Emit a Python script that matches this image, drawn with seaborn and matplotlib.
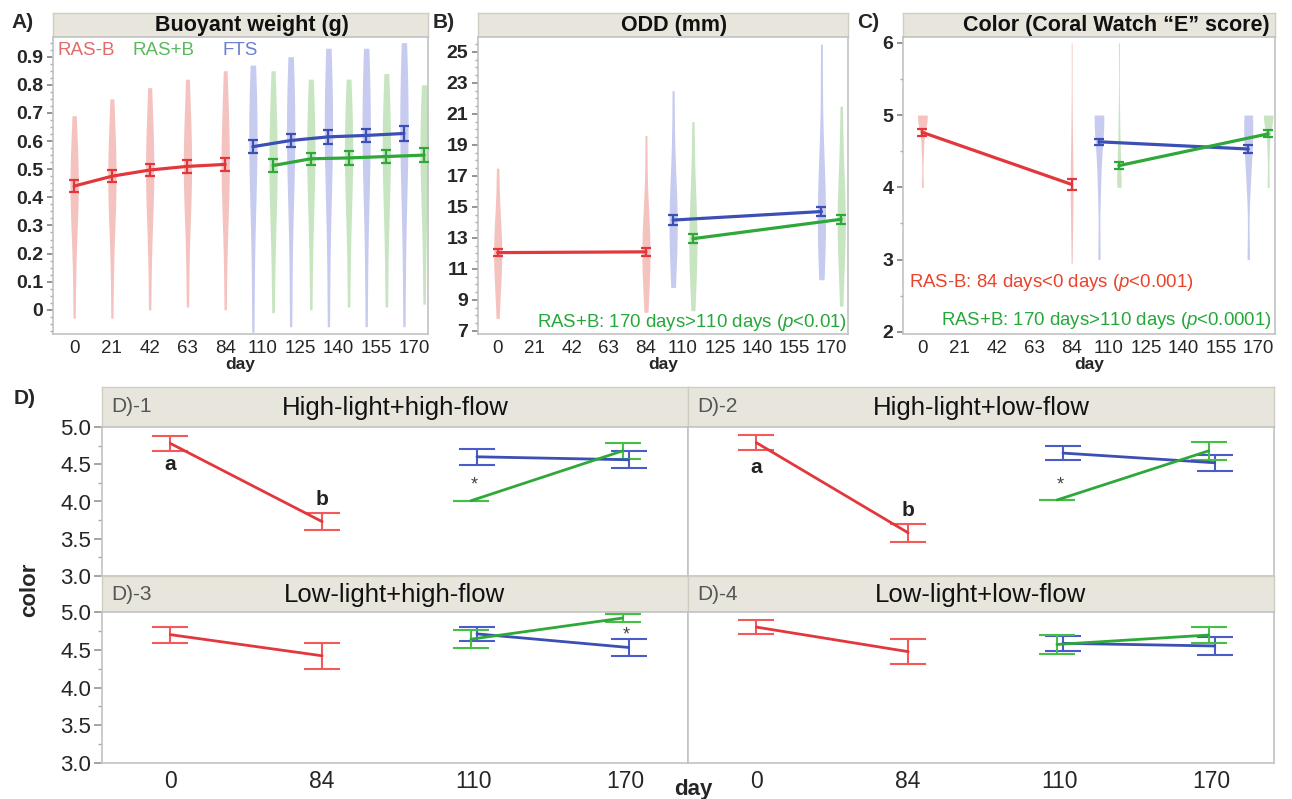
import numpy as np
import pandas as pd
import matplotlib
matplotlib.use('Agg')
import matplotlib.pyplot as plt
from matplotlib.ticker import MultipleLocator
import seaborn as sns

sns.set_theme(style='white')
plt.rcParams['font.family'] = ['Liberation Sans', 'DejaVu Sans']
plt.rcParams['mathtext.fontset'] = 'custom'
plt.rcParams['mathtext.it'] = 'Liberation Sans:italic'
plt.rcParams['mathtext.rm'] = 'Liberation Sans'

# ---------------- data ----------------
days_all = ['0', '21', '42', '63', '84', '110', '125', '140', '155', '170']

# A) buoyant weight (g)
bw_days_red = ['0', '21', '42', '63', '84']
bw_days_late = ['110', '125', '140', '155', '170']
bw_red_mean = [0.440, 0.475, 0.497, 0.510, 0.517]
bw_red_err = [0.022, 0.022, 0.022, 0.022, 0.022]
bw_fts_mean = [0.580, 0.602, 0.615, 0.620, 0.627]
bw_fts_err = [0.024, 0.024, 0.024, 0.024, 0.026]
bw_grn_mean = [0.513, 0.537, 0.540, 0.545, 0.550]
bw_grn_err = [0.022, 0.022, 0.024, 0.022, 0.024]
bw_red_vio = [[-0.03, 0.25, 0.38, 0.44, 0.47, 0.52, 0.69],
              [-0.03, 0.28, 0.40, 0.47, 0.50, 0.56, 0.75],
              [0.00, 0.30, 0.42, 0.50, 0.53, 0.60, 0.79],
              [0.01, 0.32, 0.44, 0.51, 0.55, 0.62, 0.82],
              [0.00, 0.32, 0.45, 0.52, 0.56, 0.64, 0.85]]
bw_fts_vio = [[-0.08, 0.30, 0.50, 0.58, 0.65, 0.72, 0.87],
              [-0.06, 0.32, 0.52, 0.60, 0.67, 0.75, 0.90],
              [-0.06, 0.33, 0.53, 0.62, 0.69, 0.77, 0.93],
              [-0.06, 0.33, 0.53, 0.62, 0.69, 0.77, 0.93],
              [-0.06, 0.34, 0.54, 0.63, 0.70, 0.79, 0.95]]
bw_grn_vio = [[-0.01, 0.28, 0.44, 0.51, 0.57, 0.65, 0.85],
              [0.00, 0.30, 0.46, 0.54, 0.60, 0.66, 0.82],
              [0.01, 0.30, 0.46, 0.54, 0.60, 0.66, 0.82],
              [0.01, 0.30, 0.47, 0.55, 0.61, 0.68, 0.84],
              [0.02, 0.30, 0.47, 0.55, 0.61, 0.66, 0.80]]

# B) ODD (mm)
odd_days_red = ['0', '84']
odd_days_late = ['110', '170']
odd_red_mean = [12.05, 12.1]
odd_red_err = [0.25, 0.28]
odd_fts_mean = [14.15, 14.7]
odd_fts_err = [0.3, 0.3]
odd_grn_mean = [12.95, 14.2]
odd_grn_err = [0.28, 0.3]
odd_red_vio = [[7.8, 10.5, 11.6, 12.1, 12.6, 14.0, 17.5],
               [8.2, 10.8, 11.7, 12.2, 12.8, 14.5, 19.6]]
odd_fts_vio = [[9.8, 12.0, 13.5, 14.2, 14.9, 17.0, 22.5],
               [10.3, 12.5, 13.9, 14.7, 15.5, 18.0, 25.5]]
odd_grn_vio = [[8.3, 11.0, 12.3, 13.0, 13.7, 16.0, 20.5],
               [8.6, 12.0, 13.5, 14.2, 14.9, 17.0, 21.5]]

# C) colour score
col_red_mean = [4.76, 4.04]
col_red_err = [0.05, 0.08]
col_fts_mean = [4.63, 4.53]
col_fts_err = [0.045, 0.06]
col_grn_mean = [4.30, 4.74]
col_grn_err = [0.045, 0.05]
col_red_vio = [[4.0, 4.5, 4.8, 5.0, 5.0, 5.0, 5.0, 5.0],
               [2.95, 3.5, 4.0, 4.0, 4.0, 4.5, 5.0, 6.0]]
col_fts_vio = [[3.0, 4.0, 4.5, 5.0, 5.0, 5.0, 5.0],
               [3.0, 4.0, 4.5, 4.5, 5.0, 5.0, 5.0]]
col_grn_vio = [[4.0, 4.0, 4.0, 4.0, 4.5, 5.0, 6.0],
               [4.0, 4.5, 5.0, 5.0, 5.0, 5.0, 5.0]]

# D) colour by light/flow treatment
d_days = ['0', '84', '110', '170']
d_titles = ['High-light+high-flow', 'High-light+low-flow',
            'Low-light+high-flow', 'Low-light+low-flow']
d_tags = ['D)-1', 'D)-2', 'D)-3', 'D)-4']
d_red_mean = [[4.78, 3.73], [4.79, 3.58], [4.70, 4.42], [4.80, 4.475]]
d_red_err = [[0.10, 0.11], [0.10, 0.12], [0.105, 0.17], [0.09, 0.165]]
d_fts_mean = [[4.60, 4.56], [4.65, 4.52], [4.71, 4.53], [4.585, 4.55]]
d_fts_err = [[0.11, 0.115], [0.09, 0.11], [0.09, 0.11], [0.095, 0.12]]
d_grn_mean = [[4.01, 4.68], [4.02, 4.68], [4.64, 4.92], [4.57, 4.695]]
d_grn_err = [[0.002, 0.11], [0.002, 0.12], [0.115, 0.05], [0.13, 0.105]]

# ---------------- styling ----------------
line_col = {'RAS-B': '#e2383d', 'RAS+B': '#2fa83a', 'FTS': '#3b4fb4'}
vio_col = {'RAS-B': '#f5c3bf', 'RAS+B': '#c8e5c2', 'FTS': '#c6cbef'}
bar_col_d = {'RAS-B': '#f25a5a', 'RAS+B': '#45bf45', 'FTS': '#4a5cc8'}
offset = {'FTS': -0.267, 'RAS-B': 0.0, 'RAS+B': 0.267}
pos = {d: i for i, d in enumerate(days_all)}
HEAD_BG = '#e8e5dc'
HEAD_EDGE = '#cfccc2'
SPINE = '#c2c2c2'

W, H = 1292, 799
fig = plt.figure(figsize=(W / 100, H / 100), dpi=100)


def add_px(x0, y0, x1, y1):
    return fig.add_axes([x0 / W, 1 - y1 / H, (x1 - x0) / W, (y1 - y0) / H])


def header(box, title, tx=0.5, ha='center', size=15.5, weight='bold', tag=None):
    hx = add_px(*box)
    hx.set_facecolor(HEAD_BG)
    hx.set_xticks([])
    hx.set_yticks([])
    for s in hx.spines.values():
        s.set_color(HEAD_EDGE)
        s.set_linewidth(1)
    hx.text(tx, 0.47, title, ha=ha, va='center', fontsize=size,
            fontweight=weight, color='#111111', transform=hx.transAxes)
    if tag:
        hx.text(0.015, 0.5, tag, ha='left', va='center', fontsize=15,
                color='#555555', transform=hx.transAxes)
    return hx


def box_spines(ax):
    for s in ax.spines.values():
        s.set_color(SPINE)
        s.set_linewidth(1.2)


def draw_top(ax, vio_sets, mean_sets, norm, cap, vw=0.22, bw=1.0):
    rows = []
    for grp, days, vals_list in vio_sets:
        for d, vals in zip(days, vals_list):
            for v in vals:
                rows.append({'x': pos[d] + offset[grp], 'value': v, 'group': grp})
    df = pd.DataFrame(rows)
    gap = np.diff(np.sort(df['x'].unique())).min()
    sns.violinplot(data=df, x='x', y='value', hue='group', orient='x',
                   native_scale=True, dodge=False, palette=vio_col, cut=0,
                   inner=None, linewidth=0, density_norm=norm, bw_adjust=bw,
                   width=vw / gap, saturation=1, legend=False, ax=ax)
    for grp, days, means, errs in mean_sets:
        xs = [pos[d] + offset[grp] for d in days]
        ax.errorbar(xs, means, yerr=errs, fmt='none', ecolor=line_col[grp],
                    elinewidth=1.6, capsize=cap, capthick=1.6, zorder=3)
        sns.lineplot(x=xs, y=means, color=line_col[grp], lw=2.3, ax=ax, zorder=4)
    ax.set_xticks(range(len(days_all)))
    ax.set_xticklabels(days_all, fontsize=13.5)
    ax.tick_params(axis='x', length=0, pad=4)
    ax.tick_params(axis='y', which='major', length=4, color='#888888',
                   labelsize=14, pad=3, left=True)
    ax.tick_params(axis='y', which='minor', length=2, color='#aaaaaa', left=True)
    ax.set_xlabel('day', fontsize=12.5, fontweight='bold', labelpad=0)
    ax.set_ylabel('')
    box_spines(ax)


# ---------------- A ----------------
header((53, 13, 428, 37), 'Buoyant weight (g)', tx=0.53)
axA = add_px(53, 37, 428, 334)
draw_top(axA,
         [('RAS-B', bw_days_red, bw_red_vio), ('FTS', bw_days_late, bw_fts_vio),
          ('RAS+B', bw_days_late, bw_grn_vio)],
         [('RAS-B', bw_days_red, bw_red_mean, bw_red_err),
          ('FTS', bw_days_late, bw_fts_mean, bw_fts_err),
          ('RAS+B', bw_days_late, bw_grn_mean, bw_grn_err)],
         'width', 3.5)
axA.set_xlim(-0.56, 9.37)
axA.set_ylim(-0.086, 0.97)
axA.set_yticks([0, 0.1, 0.2, 0.3, 0.4, 0.5, 0.6, 0.7, 0.8, 0.9])
axA.set_yticklabels(['0', '0.1', '0.2', '0.3', '0.4', '0.5', '0.6', '0.7', '0.8', '0.9'],
                    fontweight='bold', fontsize=14)
axA.yaxis.set_minor_locator(MultipleLocator(0.025))
for tx, txt, c in [(0.011, 'RAS-B', '#e26a68'), (0.211, 'RAS+B', '#5cb85c'),
                   (0.451, 'FTS', '#6b7fcf')]:
    axA.text(tx, 0.955, txt, color=c, fontsize=13.5, ha='left', va='center',
             transform=axA.transAxes)

# ---------------- B ----------------
header((478, 13, 848, 37), 'ODD (mm)', tx=0.53)
axB = add_px(478, 37, 848, 334)
draw_top(axB,
         [('RAS-B', odd_days_red, odd_red_vio), ('FTS', odd_days_late, odd_fts_vio),
          ('RAS+B', odd_days_late, odd_grn_vio)],
         [('RAS-B', odd_days_red, odd_red_mean, odd_red_err),
          ('FTS', odd_days_late, odd_fts_mean, odd_fts_err),
          ('RAS+B', odd_days_late, odd_grn_mean, odd_grn_err)],
         'width', 3.5)
axB.set_xlim(-0.53, 9.45)
axB.set_ylim(6.8, 25.96)
axB.set_yticks(range(7, 26, 2))
axB.set_yticklabels([str(v) for v in range(7, 26, 2)], fontweight='bold', fontsize=14)
axB.yaxis.set_minor_locator(MultipleLocator(0.5))
axB.text(0.997, 0.04, 'RAS+B: 170 days>110 days ($p$<0.01)', color='#25a83a',
         fontsize=13.4, ha='right', va='center', transform=axB.transAxes)

# ---------------- C ----------------
header((903, 13, 1275, 37), 'Color (Coral Watch \u201cE\u201d score)', tx=0.985, ha='right')
axC = add_px(903, 37, 1275, 334)
draw_top(axC,
         [('RAS-B', odd_days_red, col_red_vio), ('FTS', odd_days_late, col_fts_vio),
          ('RAS+B', odd_days_late, col_grn_vio)],
         [('RAS-B', odd_days_red, col_red_mean, col_red_err),
          ('FTS', odd_days_late, col_fts_mean, col_fts_err),
          ('RAS+B', odd_days_late, col_grn_mean, col_grn_err)],
         'area', 3.5, vw=0.26, bw=0.7)
axC.set_xlim(-0.52, 9.45)
axC.set_ylim(1.97, 6.08)
axC.set_yticks([2, 3, 4, 5, 6])
axC.set_yticklabels(['2', '3', '4', '5', '6'], fontweight='bold', fontsize=14)
axC.yaxis.set_minor_locator(MultipleLocator(0.5))
axC.text(0.016, 0.172, 'RAS-B: 84 days<0 days ($p$<0.001)', color='#e8432d',
         fontsize=13.4, ha='left', va='center', transform=axC.transAxes)
axC.text(0.99, 0.047, 'RAS+B: 170 days>110 days ($p$<0.0001)', color='#25a83a',
         fontsize=13.4, ha='right', va='center', transform=axC.transAxes)

fig.text(23 / W, 1 - 22 / H, 'A)', fontsize=15, fontweight='bold', ha='center', va='center')
fig.text(444 / W, 1 - 22 / H, 'B)', fontsize=15, fontweight='bold', ha='center', va='center')
fig.text(868 / W, 1 - 22 / H, 'C)', fontsize=15, fontweight='bold', ha='center', va='center')

# ---------------- D ----------------
d_boxes = [(102, 688, 387, 427, 576), (688, 1274, 387, 427, 576),
           (102, 688, 576, 612, 763), (688, 1274, 576, 612, 763)]
d_off = {'RAS-B': 0.0, 'FTS': 0.02, 'RAS+B': -0.02}
d_notes = [[('a', 0, 4.50), ('b', 1, 4.03), ('*', 2, 4.22)],
           [('a', 0, 4.45), ('b', 1, 3.88), ('*', 2, 4.22)],
           [('*', 3, 4.70)],
           []]

for k, (x0, x1, yh, yt, yb) in enumerate(d_boxes):
    header((x0, yh, x1, yt), d_titles[k], size=18.5, weight='normal', tag=d_tags[k])
    ax = add_px(x0, yt, x1, yb)
    series = [('RAS-B', d_days[:2], d_red_mean[k], d_red_err[k]),
              ('FTS', d_days[2:], d_fts_mean[k], d_fts_err[k]),
              ('RAS+B', d_days[2:], d_grn_mean[k], d_grn_err[k])]
    for grp, days, means, errs in series:
        xs = [d_days.index(d) + d_off[grp] for d in days]
        ax.errorbar(xs, means, yerr=errs, fmt='none', ecolor=bar_col_d[grp],
                    elinewidth=1.5, capsize=13, capthick=1.5, zorder=3)
        sns.lineplot(x=xs, y=means, color=line_col[grp], lw=2.0, ax=ax, zorder=4)
    for txt, xi, yv in d_notes[k]:
        if txt == '*':
            ax.text(xi, yv, txt, fontsize=13, color='#444444', ha='center', va='center')
        else:
            ax.text(xi, yv, txt, fontsize=15, fontweight='bold', color='#222222',
                    ha='center', va='center')
    ax.set_xlim(-0.45, 3.41)
    ax.set_ylim(3.0, 5.0)
    ax.set_xticks(range(4))
    ax.set_yticks([3.0, 3.5, 4.0, 4.5, 5.0])
    ax.yaxis.set_minor_locator(MultipleLocator(0.25))
    if k >= 2:
        ax.set_xticklabels(d_days, fontsize=16.5)
    else:
        ax.set_xticklabels([])
    ax.tick_params(axis='x', length=0, pad=5)
    if k % 2 == 0:
        ax.set_yticklabels(['3.0', '3.5', '4.0', '4.5', '5.0'], fontsize=16)
        ax.tick_params(axis='y', which='major', length=6, color='#999999', left=True, pad=2)
        ax.tick_params(axis='y', which='minor', length=3, color='#aaaaaa', left=True)
    else:
        ax.set_yticklabels([])
        ax.tick_params(axis='y', which='both', length=0)
    ax.set_xlabel('')
    ax.set_ylabel('')
    box_spines(ax)

fig.text(25 / W, 1 - 399 / H, 'D)', fontsize=15, fontweight='bold', ha='center', va='center')
fig.text(30 / W, 1 - 590 / H, 'color', fontsize=16, fontweight='bold', rotation=90,
         ha='center', va='center')
fig.text(693 / W, 1 - 789 / H, 'day', fontsize=16, fontweight='bold', ha='center', va='center')

fig.savefig('out.png', dpi=100)
